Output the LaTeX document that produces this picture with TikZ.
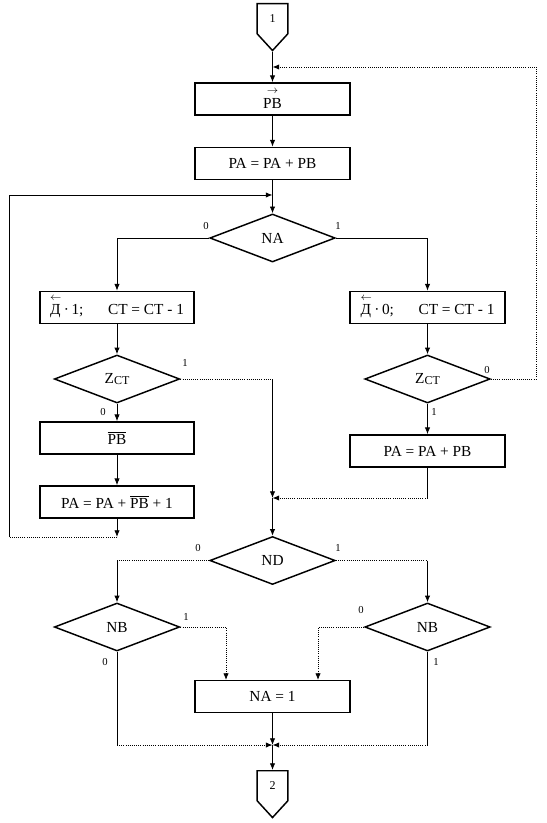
\documentclass[tikz,border=0pt]{standalone}
\usepackage{fontspec}
\setmainfont{Liberation Serif}
\usetikzlibrary{shapes.geometric,shapes.symbols,arrows.meta}
\newcommand{\fsz}{\fontsize{11.5}{13}\selectfont}
\newcommand{\zct}{Z\raisebox{-1pt}{\small CT}}
\newcommand{\rsh}[1]{\shortstack[c]{\footnotesize$\rightarrow$\\[0pt]#1}}
\newcommand{\lsh}[1]{\shortstack[l]{\footnotesize$\leftarrow$\\[0pt]#1}}
\tikzset{
  blk/.style={draw, line width=1.3pt, minimum width=116pt, minimum height=24pt, inner sep=1pt, font=\fsz},
  cond/.style={draw, diamond, aspect=2.6, line width=1.1pt, minimum width=94pt, minimum height=36pt, inner sep=0pt, font=\fsz},
  conn/.style={draw, signal, signal to=south, signal from=nothing, signal pointer angle=85, line width=1.1pt, minimum width=23pt, minimum height=25pt, inner sep=0pt, font=\small},
  arr/.style={-{Latex[length=5pt,width=4pt]}, line width=0.6pt},
  dotarr/.style={arr, densely dotted},
  dln/.style={densely dotted, line width=0.6pt},
  ln/.style={line width=0.6pt},
  lbl/.style={font=\footnotesize, inner sep=1pt}
}
\begin{document}
\begin{tikzpicture}[x=0.75pt, y=-0.75pt]
  \useasboundingbox (0,0) rectangle (546,823);
  \node[conn, anchor=north] (c1) at (272.5,3) {1};
  \node[blk] (pb) at (272.5,99) {\rsh{PB}};
  \node[blk] (pa1) at (272.5,163.5) {PA = PA + PB};
  \node[cond] (na) at (272.5,238) {NA};
  \node[blk] (dl) at (117,307.5) {\lsh{Д}\,·\,1;\hspace{1.6em}CT = CT - 1};
  \node[blk] (dr) at (427.5,307.5) {\lsh{Д}\,·\,0;\hspace{1.6em}CT = CT - 1};
  \node[cond] (zl) at (117,379) {\zct};
  \node[cond] (zr) at (427.5,379) {\zct};
  \node[blk] (pbn) at (117,438) {$\overline{\mbox{PB}}$};
  \node[blk] (pa3) at (117,502) {PA = PA + $\overline{\mbox{PB}}$ + 1};
  \node[blk] (pa2) at (427.5,451) {PA = PA + PB};
  \node[cond] (nd) at (272.5,560.5) {ND};
  \node[cond] (nbl) at (117,627) {NB};
  \node[cond] (nbr) at (427.5,627) {NB};
  \node[blk] (na1) at (272.5,696.5) {NA = 1};
  \node[conn, anchor=north] (c2) at (272.5,770) {2};

  \coordinate (jn1) at (272.5,67);
  \coordinate (rt) at (536,67);
  \coordinate (jn2) at (272.5,195);
  \coordinate (lb) at (117,537);
  \coordinate (lc) at (9,537);
  \coordinate (ax1) at (272.5,379);
  \coordinate (mg1) at (272.5,498);
  \coordinate (rc) at (427.5,498);
  \coordinate (ndl) at (117,560.5);
  \coordinate (ndr) at (427.5,560.5);
  \coordinate (in1) at (226,680);
  \coordinate (in2) at (318,680);
  \coordinate (ml) at (117,745);
  \coordinate (mr) at (427.5,745);
  \coordinate (mg) at (272.5,745);

  \draw[arr] (c1.south) -- (pb.north);
  \draw[arr] (pb.south) -- (pa1.north);
  \draw[arr] (pa1.south) -- (na.north);
  \draw[arr] (na.west) -| (dl.north);
  \draw[arr] (na.east) -| (dr.north);
  \draw[arr] (dl.south) -- (zl.north);
  \draw[arr] (dr.south) -- (zr.north);
  \draw[arr] (zl.south) -- (pbn.north);
  \draw[arr] (pbn.south) -- (pa3.north);
  \draw[arr] (pa3.south) -- (lb);
  \draw[dln] (lb) -- (lc);
  \draw[arr] (lc) |- (jn2);
  \draw[dln] (zl.east) -- (ax1);
  \draw[arr] (ax1) -- (mg1);
  \draw[arr] (mg1) -- (nd.north);
  \draw[arr] (zr.south) -- (pa2.north);
  \draw[ln] (pa2.south) -- (rc);
  \draw[dotarr] (rc) -- (mg1);
  \draw[dotarr] (zr.east) -| (rt) -- (jn1);
  \draw[dln] (nd.west) -- (ndl);
  \draw[arr] (ndl) -- (nbl.north);
  \draw[dln] (nd.east) -- (ndr);
  \draw[arr] (ndr) -- (nbr.north);
  \draw[dotarr] (nbl.east) -| (in1);
  \draw[dotarr] (nbr.west) -| (in2);
  \draw[ln] (nbl.south) -- (ml);
  \draw[dotarr] (ml) -- (mg);
  \draw[ln] (nbr.south) -- (mr);
  \draw[dotarr] (mr) -- (mg);
  \draw[arr] (na1.south) -- (mg);
  \draw[arr] (mg) -- (c2.north);

  \node[lbl] at (206,226) {0};
  \node[lbl] at (338,226) {1};
  \node[lbl] at (185,363) {1};
  \node[lbl] at (487,370) {0};
  \node[lbl] at (103,412) {0};
  \node[lbl] at (434,412) {1};
  \node[lbl] at (198,548) {0};
  \node[lbl] at (338,548) {1};
  \node[lbl] at (186,617) {1};
  \node[lbl] at (361,610) {0};
  \node[lbl] at (105,662) {0};
  \node[lbl] at (436,662) {1};
\end{tikzpicture}
\end{document}
